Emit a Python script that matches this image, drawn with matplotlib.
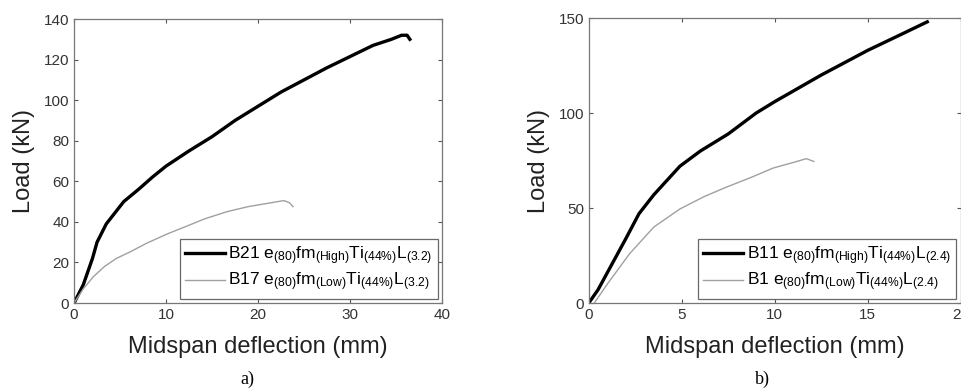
import matplotlib
matplotlib.use('Agg')
import matplotlib.pyplot as plt

plt.rcParams['font.family'] = ['Liberation Sans', 'DejaVu Sans']
plt.rcParams['mathtext.default'] = 'regular'

# a) beams with L = 3.2
b21_x = [0, 1.0, 2.0, 2.5, 3.5, 5.4, 7.0, 8.5, 10, 12.5, 15, 17.5, 20, 22.5, 25, 27.5, 30, 32.5, 34.5, 35.6, 36.2, 36.5]
b21_y = [0, 9, 22, 30, 39, 50, 56, 62, 67.5, 75, 82, 90, 97, 104, 110, 116, 121.5, 127, 130, 132, 132, 130]
b17_x = [0, 1.0, 2.1, 3.3, 4.6, 6.0, 7.9, 10.1, 12.3, 14.2, 16.6, 18.9, 20.2, 21.5, 22.8, 23.4, 23.8]
b17_y = [0, 7, 13, 18, 22, 25, 29.5, 34, 38, 41.5, 45, 47.5, 48.5, 49.5, 50.5, 49.5, 47.5]

# b) beams with L = 2.4
b11_x = [0, 0.5, 1.0, 1.5, 2.0, 2.7, 3.5, 4.9, 6.0, 7.5, 9.0, 10.0, 12.5, 15, 16.5, 18.2]
b11_y = [0, 7, 16, 25, 34, 47, 57, 72, 80, 89, 100, 106, 120, 133, 140, 148]
b1_x = [0.3, 1.0, 2.2, 3.5, 4.9, 6.2, 7.4, 8.7, 9.9, 11.0, 11.7, 12.1]
b1_y = [0, 10, 26, 40, 49.5, 56, 61, 66, 71, 74, 76, 74.5]

lab_a = [r'B21 e$_{(80)}$fm$_{(High)}$Ti$_{(44\%)}$L$_{(3.2)}$',
         r'B17 e$_{(80)}$fm$_{(Low)}$Ti$_{(44\%)}$L$_{(3.2)}$']
lab_b = [r'B11 e$_{(80)}$fm$_{(High)}$Ti$_{(44\%)}$L$_{(2.4)}$',
         r'B1 e$_{(80)}$fm$_{(Low)}$Ti$_{(44\%)}$L$_{(2.4)}$']

fig = plt.figure(figsize=(9.62, 3.88), dpi=100)
ax1 = fig.add_axes([0.077, 0.219, 0.3825, 0.732])
ax2 = fig.add_axes([0.612, 0.219, 0.3867, 0.7345])

def style(ax, xl, yl, yt, xt):
    ax.set_xlim(xl)
    ax.set_ylim(yl)
    ax.set_yticks(yt)
    ax.set_xticks(xt)
    ax.tick_params(direction='in', top=True, right=True, labelsize=11,
                   colors='#555555', labelcolor='#333333', length=3, width=0.8)
    for s in ax.spines.values():
        s.set_color('#777777')
        s.set_linewidth(0.9)
    ax.set_xlabel('Midspan deflection (mm)', fontsize=17, color='#222222', labelpad=10)
    ax.set_ylabel('Load (kN)', fontsize=17, color='#222222', labelpad=6)

def add_legend(ax):
    leg = ax.legend(loc='lower right', fontsize=12.5, borderaxespad=0.25, fancybox=False,
                    handlelength=2.3, handletextpad=0.2, labelspacing=0.25,
                    borderpad=0.3)
    leg.get_frame().set_edgecolor('#444444')
    leg.get_frame().set_linewidth(0.9)

ax1.plot(b21_x, b21_y, color='black', lw=2.4, label=lab_a[0])
ax1.plot(b17_x, b17_y, color='#a0a0a0', lw=1.0, label=lab_a[1])
style(ax1, (0, 40), (0, 140), range(0, 141, 20), range(0, 41, 10))
add_legend(ax1)

ax2.plot(b11_x, b11_y, color='black', lw=2.4, label=lab_b[0])
ax2.plot(b1_x, b1_y, color='#a0a0a0', lw=1.0, label=lab_b[1])
style(ax2, (0, 20), (0, 150), [0, 50, 100, 150], range(0, 21, 5))
add_legend(ax2)

fig.text(0.257, 0.01, 'a)', family='Liberation Serif', fontsize=13, ha='center')
fig.text(0.793, 0.01, 'b)', family='Liberation Serif', fontsize=13, ha='center')

fig.savefig('out.png', dpi=100)
